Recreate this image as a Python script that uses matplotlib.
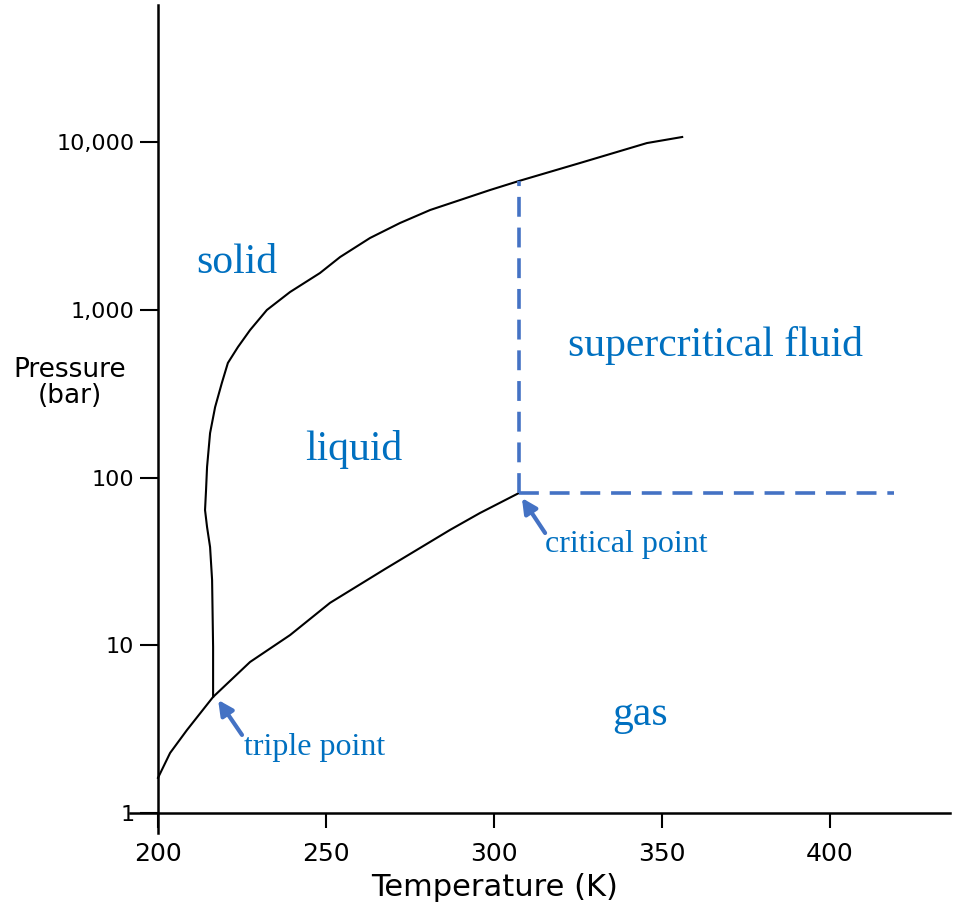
import matplotlib
matplotlib.use("Agg")
import matplotlib.pyplot as plt

# phase diagram (hand drawn in the original)
vapor_T = [200.0, 203.6, 208.6, 216.4, 227.4, 239.3, 251.2, 267.6, 286.9, 295.8, 307.4]
vapor_P = [1.62, 2.28, 3.12, 4.92, 7.95, 11.5, 17.9, 28.5, 48.7, 61.4, 80.8]

melt_T = [216.4, 216.4, 216.1, 215.5, 214.6, 214.0, 214.3, 214.6, 215.5, 217.0, 219.0,
          220.8, 223.8, 227.4, 232.4, 239.3, 248.2, 254.2, 263.1, 272.0, 281.0, 289.9,
          298.8, 307.4, 325.6, 345.5, 356.0]
melt_P = [4.92, 9.77, 24.5, 38.5, 50.7, 64.0, 84.2, 115.5, 184, 263, 366,
          482, 600, 757, 997, 1276, 1656, 2063, 2679, 3289, 3934, 4511,
          5174, 5857, 7500, 9860, 10715]

triple = (216.4, 4.92)
critical = (307.4, 80.8)
crit_top_P = 5857
dash_end_T = 419

xticks = [200, 250, 300, 350, 400]
yticks = [1, 10, 100, 1000, 10000]
ytick_labels = ["1", "10", "100", "1,000", "10,000"]

# region labels: (text, T, P, size)
regions = [
    ("solid", 223.5, 1656, 30),
    ("liquid", 258.3, 127, 30),
    ("supercritical fluid", 365.8, 530, 30),
    ("gas", 343.5, 3.35, 30),
    ("triple point", 246.7, 2.22, 23),
    ("critical point", 339.4, 35.9, 23),
]

TEXT_BLUE = "#0070C0"
LINE_BLUE = "#4472C4"

fig = plt.figure(figsize=(9.56, 9.13), dpi=100)
ax = fig.add_axes([130 / 956, 80 / 913, 820 / 956, 828 / 913])

ax.set_yscale("log")
ax.set_xlim(191.67, 435.7)
ax.set_ylim(0.760, 65600)

ax.plot(vapor_T, vapor_P, color="black", lw=1.5)
ax.plot(melt_T, melt_P, color="black", lw=1.5)

ax.plot([critical[0], critical[0]], [critical[1], crit_top_P], color=LINE_BLUE,
        lw=2.6, dashes=(5.5, 3))
ax.plot([critical[0], dash_end_T], [critical[1], critical[1]], color=LINE_BLUE,
        lw=2.6, dashes=(5.5, 3))

# arrows
ax.annotate("", xy=(217.9, 4.72), xytext=(225.0, 2.92),
            arrowprops=dict(arrowstyle="-|>", color=LINE_BLUE, lw=3,
                            mutation_scale=22, shrinkA=0, shrinkB=0))
ax.annotate("", xy=(308.3, 75.5), xytext=(315.2, 46.7),
            arrowprops=dict(arrowstyle="-|>", color=LINE_BLUE, lw=3,
                            mutation_scale=22, shrinkA=0, shrinkB=0))

for txt, t, p, size in regions:
    ax.text(t, p, txt, color=TEXT_BLUE, fontsize=size, family="Liberation Serif",
            ha="center", va="baseline")

# axes look
for s in ["top", "right"]:
    ax.spines[s].set_visible(False)
ax.spines["left"].set_position(("data", 200))
ax.spines["bottom"].set_position(("data", 1))
ax.spines["left"].set_linewidth(1.8)
ax.spines["bottom"].set_linewidth(1.8)

ax.set_xticks(xticks)
ax.set_xticklabels([str(v) for v in xticks])
ax.set_yticks(yticks)
ax.set_yticklabels(ytick_labels)
ax.minorticks_off()
ax.tick_params(axis="x", direction="out", length=11, width=1.5, pad=10, labelsize=18)
ax.tick_params(axis="y", direction="out", length=13, width=1.5, pad=4, labelsize=16)

fig.text(495 / 956, 1 - 887 / 913, "Temperature (K)", fontsize=22,
         ha="center", va="center")
fig.text(70 / 956, 1 - 383 / 913, "Pressure\n(bar)", fontsize=19,
         ha="center", va="center", multialignment="center", linespacing=1.0)

fig.savefig("out.png", dpi=100)
